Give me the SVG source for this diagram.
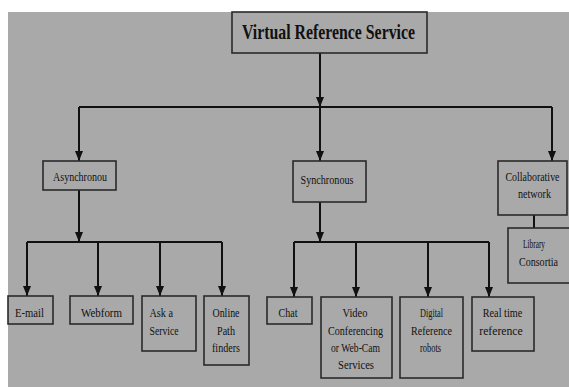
<svg xmlns="http://www.w3.org/2000/svg" width="569" height="387" viewBox="0 0 569 387">
<defs>
<marker id="arr" markerUnits="userSpaceOnUse" markerWidth="11" markerHeight="8" refX="10" refY="4" orient="auto" viewBox="0 0 10 8">
<path d="M0,0 L10,4 L0,8 Z" fill="#111"/>
</marker>
</defs>
<style>
.bg{fill:#a9a9a9}
.box{fill:none;stroke:#2a2a2a;stroke-width:1.6}
.ln{fill:none;stroke:#111;stroke-width:2}
.t{font-family:"Liberation Serif","Times New Roman",serif;font-size:13px;fill:#111;text-anchor:middle}
.tl{text-anchor:start}
.title{font-family:"Liberation Serif","Times New Roman",serif;font-size:21px;font-weight:bold;fill:#111}
</style>
<rect width="569" height="387" fill="#fff"/>
<rect class="bg" x="8" y="12" width="561" height="375"/>

<g id="connectors">
<path class="ln" d="M320 53 V107" marker-end="url(#arr)"/>
<path class="ln" d="M79 107 H552"/>
<path class="ln" d="M79 107 V161" marker-end="url(#arr)"/>
<path class="ln" d="M320 107 V161" marker-end="url(#arr)"/>
<path class="ln" d="M552 107 V161" marker-end="url(#arr)"/>
<path class="ln" d="M79 190 V242" marker-end="url(#arr)"/>
<path class="ln" d="M27 242 H222"/>
<path class="ln" d="M27 242 V296" marker-end="url(#arr)"/>
<path class="ln" d="M98 242 V296" marker-end="url(#arr)"/>
<path class="ln" d="M160 242 V296" marker-end="url(#arr)"/>
<path class="ln" d="M222 242 V296" marker-end="url(#arr)"/>
<path class="ln" d="M320 202 V242" marker-end="url(#arr)"/>
<path class="ln" d="M294 242 H489"/>
<path class="ln" d="M294 242 V297" marker-end="url(#arr)"/>
<path class="ln" d="M356 242 V297" marker-end="url(#arr)"/>
<path class="ln" d="M428 242 V297" marker-end="url(#arr)"/>
<path class="ln" d="M489 242 V297" marker-end="url(#arr)"/>
<path class="ln" d="M534 215 V228"/>
</g>

<g id="n-root">
<rect class="box" x="232" y="12" width="195" height="41"/>
<text class="title" x="242" y="39" textLength="173" lengthAdjust="spacingAndGlyphs">Virtual Reference Service</text>
</g>

<g id="n-async">
<rect class="box" x="43" y="161" width="73" height="29"/>
<text class="t" x="80" y="181" textLength="54" lengthAdjust="spacingAndGlyphs">Asynchronou</text>
</g>

<g id="n-sync">
<rect class="box" x="293" y="161" width="73" height="41"/>
<text class="t" x="327" y="183.5" textLength="53" lengthAdjust="spacingAndGlyphs">Synchronous</text>
</g>

<g id="n-collab">
<rect class="box" x="498" y="161" width="69" height="54"/>
<text class="t" x="532.5" y="180.5" font-size="11" textLength="54" lengthAdjust="spacingAndGlyphs">Collaborative</text>
<text class="t" x="534.5" y="197.5" textLength="33" lengthAdjust="spacingAndGlyphs">network</text>
</g>

<g id="n-library">
<rect class="box" x="508" y="228" width="66" height="55"/>
<text class="t" x="534" y="247.5" textLength="22" lengthAdjust="spacingAndGlyphs">Library</text>
<text class="t" x="538.5" y="266" textLength="39" lengthAdjust="spacingAndGlyphs">Consortia</text>
</g>

<g id="n-email">
<rect class="box" x="8" y="296" width="45" height="28"/>
<text class="t" x="29.5" y="316.5" textLength="29" lengthAdjust="spacingAndGlyphs">E-mail</text>
</g>

<g id="n-webform">
<rect class="box" x="70" y="296" width="63" height="28"/>
<text class="t" x="101.5" y="316.5" textLength="41" lengthAdjust="spacingAndGlyphs">Webform</text>
</g>

<g id="n-ask">
<rect class="box" x="142" y="296" width="54" height="55"/>
<text class="t tl" x="149.5" y="316.5" textLength="23.5" lengthAdjust="spacingAndGlyphs">Ask a</text>
<text class="t tl" x="149.5" y="334.5" textLength="29" lengthAdjust="spacingAndGlyphs">Service</text>
</g>

<g id="n-online">
<rect class="box" x="204" y="296" width="45" height="69"/>
<text class="t" x="226" y="316.5" textLength="27" lengthAdjust="spacingAndGlyphs">Online</text>
<text class="t" x="226" y="334.5" textLength="18" lengthAdjust="spacingAndGlyphs">Path</text>
<text class="t" x="226" y="351.5" textLength="28" lengthAdjust="spacingAndGlyphs">finders</text>
</g>

<g id="n-chat">
<rect class="box" x="267" y="297" width="45" height="27"/>
<text class="t" x="288" y="316.5" textLength="19" lengthAdjust="spacingAndGlyphs">Chat</text>
</g>

<g id="n-video">
<rect class="box" x="321" y="297" width="71" height="81"/>
<text class="t" x="355" y="316.5" textLength="25" lengthAdjust="spacingAndGlyphs">Video</text>
<text class="t" x="355.5" y="334.5" textLength="55" lengthAdjust="spacingAndGlyphs">Conferencing</text>
<text class="t" x="355.5" y="351.5" textLength="49" lengthAdjust="spacingAndGlyphs">or Web-Cam</text>
<text class="t" x="356" y="368.5" textLength="36" lengthAdjust="spacingAndGlyphs">Services</text>
</g>

<g id="n-digital">
<rect class="box" x="400" y="297" width="63" height="81"/>
<text class="t" x="431.5" y="316.5" textLength="23" lengthAdjust="spacingAndGlyphs">Digital</text>
<text class="t" x="431.5" y="334.5" textLength="41" lengthAdjust="spacingAndGlyphs">Reference</text>
<text class="t" x="430.5" y="351.5" textLength="21" lengthAdjust="spacingAndGlyphs">robots</text>
</g>

<g id="n-realtime">
<rect class="box" x="472" y="297" width="62" height="54"/>
<text class="t" x="502.5" y="316.5" textLength="39.5" lengthAdjust="spacingAndGlyphs">Real time</text>
<text class="t" x="501" y="334.5" textLength="43.5" lengthAdjust="spacingAndGlyphs">reference</text>
</g>
</svg>
